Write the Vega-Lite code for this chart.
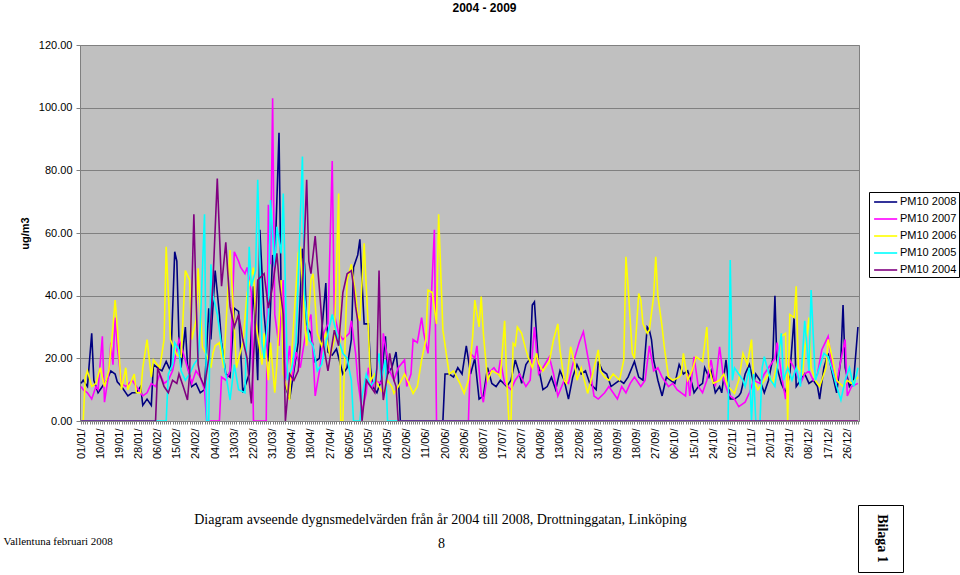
{
"$schema": "https://vega.github.io/schema/vega-lite/v6.json",
"width": 779, "height": 376,
"autosize": {"type": "none"},
"padding": {"left": 80, "top": 45, "right": 101, "bottom": 154},
"background": "white",
"config": {"view": {"fill": "#C0C0C0", "stroke": "#808080", "strokeWidth": 1}},
"title": {"text": "2004 - 2009", "anchor": "middle", "frame": "group", "dx": 15, "offset": 24, "font": "Liberation Sans", "fontSize": 12, "fontWeight": "bold", "color": "black"},
"resolve": {"axis": {"x": "independent", "y": "independent"}},
"layer": [
{
"data": {"values": [
{"s":"2008","d":1,"v":12},{"s":"2008","d":2,"v":13},{"s":"2008","d":3,"v":12},{"s":"2008","d":4,"v":11},{"s":"2008","d":6,"v":28},{"s":"2008","d":7,"v":13},{"s":"2008","d":9,"v":9},{"s":"2008","d":11,"v":11},{"s":"2008","d":13,"v":13},{"s":"2008","d":15,"v":16},{"s":"2008","d":17,"v":15},{"s":"2008","d":18,"v":12.5},{"s":"2008","d":20,"v":11},{"s":"2008","d":23,"v":8},{"s":"2008","d":25,"v":9},{"s":"2008","d":27,"v":9},{"s":"2008","d":29,"v":11},{"s":"2008","d":30,"v":5},{"s":"2008","d":32,"v":7},{"s":"2008","d":34,"v":5},{"s":"2008","d":35,"v":18},{"s":"2008","d":37,"v":17},{"s":"2008","d":39,"v":16},{"s":"2008","d":41,"v":19},{"s":"2008","d":43,"v":16},{"s":"2008","d":45,"v":54},{"s":"2008","d":46,"v":51},{"s":"2008","d":47,"v":26},{"s":"2008","d":48,"v":17},{"s":"2008","d":50,"v":30},{"s":"2008","d":51,"v":18},{"s":"2008","d":53,"v":11},{"s":"2008","d":55,"v":12},{"s":"2008","d":57,"v":9},{"s":"2008","d":59,"v":10},{"s":"2008","d":61,"v":36},{"s":"2008","d":62,"v":26},{"s":"2008","d":64,"v":48},{"s":"2008","d":66,"v":34},{"s":"2008","d":67,"v":25},{"s":"2008","d":69,"v":15},{"s":"2008","d":71,"v":14},{"s":"2008","d":73,"v":36},{"s":"2008","d":75,"v":35},{"s":"2008","d":77,"v":9},{"s":"2008","d":80,"v":15},{"s":"2008","d":82,"v":43},{"s":"2008","d":84,"v":13},{"s":"2008","d":85,"v":61},{"s":"2008","d":87,"v":34},{"s":"2008","d":89,"v":19},{"s":"2008","d":91,"v":53},{"s":"2008","d":92,"v":49},{"s":"2008","d":94,"v":92},{"s":"2008","d":95,"v":40},{"s":"2008","d":97,"v":11},{"s":"2008","d":99,"v":7},{"s":"2008","d":101,"v":16},{"s":"2008","d":103,"v":25},{"s":"2008","d":105,"v":55},{"s":"2008","d":106,"v":50},{"s":"2008","d":107,"v":30},{"s":"2008","d":109,"v":28},{"s":"2008","d":111,"v":19},{"s":"2008","d":113,"v":20},{"s":"2008","d":116,"v":44},{"s":"2008","d":117,"v":22},{"s":"2008","d":119,"v":21},{"s":"2008","d":121,"v":23},{"s":"2008","d":124,"v":15},{"s":"2008","d":126,"v":17},{"s":"2008","d":128,"v":26},{"s":"2008","d":129,"v":49},{"s":"2008","d":131,"v":53},{"s":"2008","d":132,"v":58},{"s":"2008","d":134,"v":31},{"s":"2008","d":136,"v":31},{"s":"2008","d":137,"v":17},{"s":"2008","d":138,"v":11},{"s":"2008","d":140,"v":9},{"s":"2008","d":142,"v":13},{"s":"2008","d":144,"v":27},{"s":"2008","d":145,"v":15},{"s":"2008","d":147,"v":17},{"s":"2008","d":149,"v":22},{"s":"2008","d":150,"v":15},{"s":"2008","d":151,"v":0},{"s":"2008","d":171,"v":0},{"s":"2008","d":172,"v":15},{"s":"2008","d":174,"v":15},{"s":"2008","d":176,"v":14},{"s":"2008","d":178,"v":17},{"s":"2008","d":180,"v":15},{"s":"2008","d":182,"v":24},{"s":"2008","d":184,"v":15},{"s":"2008","d":186,"v":20},{"s":"2008","d":188,"v":7},{"s":"2008","d":190,"v":8},{"s":"2008","d":192,"v":17},{"s":"2008","d":194,"v":12},{"s":"2008","d":196,"v":11},{"s":"2008","d":198,"v":13},{"s":"2008","d":201,"v":11},{"s":"2008","d":203,"v":13},{"s":"2008","d":205,"v":19.5},{"s":"2008","d":207,"v":15},{"s":"2008","d":208,"v":12},{"s":"2008","d":210,"v":18},{"s":"2008","d":212,"v":20},{"s":"2008","d":213,"v":37},{"s":"2008","d":214,"v":38},{"s":"2008","d":216,"v":17},{"s":"2008","d":218,"v":10},{"s":"2008","d":220,"v":11},{"s":"2008","d":222,"v":14},{"s":"2008","d":224,"v":10},{"s":"2008","d":226,"v":16},{"s":"2008","d":228,"v":13},{"s":"2008","d":230,"v":7},{"s":"2008","d":232,"v":14},{"s":"2008","d":234,"v":18},{"s":"2008","d":236,"v":15},{"s":"2008","d":238,"v":16},{"s":"2008","d":240,"v":12},{"s":"2008","d":243,"v":10},{"s":"2008","d":244,"v":19},{"s":"2008","d":246,"v":16},{"s":"2008","d":248,"v":15},{"s":"2008","d":250,"v":11},{"s":"2008","d":252,"v":12},{"s":"2008","d":254,"v":13},{"s":"2008","d":256,"v":12},{"s":"2008","d":258,"v":14},{"s":"2008","d":261,"v":19},{"s":"2008","d":263,"v":14},{"s":"2008","d":265,"v":13},{"s":"2008","d":267,"v":30},{"s":"2008","d":268,"v":29},{"s":"2008","d":269,"v":26},{"s":"2008","d":270,"v":19.5},{"s":"2008","d":272,"v":13},{"s":"2008","d":274,"v":8},{"s":"2008","d":276,"v":14},{"s":"2008","d":278,"v":13},{"s":"2008","d":280,"v":12},{"s":"2008","d":282,"v":18},{"s":"2008","d":284,"v":15},{"s":"2008","d":286,"v":16},{"s":"2008","d":288,"v":12},{"s":"2008","d":289,"v":9},{"s":"2008","d":291,"v":11},{"s":"2008","d":293,"v":12},{"s":"2008","d":294,"v":17},{"s":"2008","d":296,"v":14},{"s":"2008","d":297,"v":16},{"s":"2008","d":299,"v":9},{"s":"2008","d":301,"v":11},{"s":"2008","d":302,"v":9},{"s":"2008","d":304,"v":19.5},{"s":"2008","d":306,"v":7},{"s":"2008","d":308,"v":7},{"s":"2008","d":310,"v":8},{"s":"2008","d":311,"v":9},{"s":"2008","d":313,"v":15},{"s":"2008","d":315,"v":18},{"s":"2008","d":317,"v":12},{"s":"2008","d":318,"v":15},{"s":"2008","d":320,"v":13},{"s":"2008","d":322,"v":9},{"s":"2008","d":324,"v":13},{"s":"2008","d":326,"v":20},{"s":"2008","d":327,"v":40},{"s":"2008","d":328,"v":17},{"s":"2008","d":330,"v":12},{"s":"2008","d":332,"v":9},{"s":"2008","d":334,"v":15},{"s":"2008","d":336,"v":33},{"s":"2008","d":337,"v":11},{"s":"2008","d":339,"v":13},{"s":"2008","d":341,"v":15},{"s":"2008","d":343,"v":12},{"s":"2008","d":345,"v":13},{"s":"2008","d":347,"v":11},{"s":"2008","d":348,"v":7},{"s":"2008","d":350,"v":17},{"s":"2008","d":352,"v":21.6},{"s":"2008","d":354,"v":15},{"s":"2008","d":356,"v":9},{"s":"2008","d":358,"v":20},{"s":"2008","d":359,"v":37},{"s":"2008","d":360,"v":17},{"s":"2008","d":362,"v":11},{"s":"2008","d":364,"v":13},{"s":"2008","d":366,"v":30},
{"s":"2007","d":1,"v":11},{"s":"2007","d":2,"v":10},{"s":"2007","d":4,"v":9},{"s":"2007","d":6,"v":7},{"s":"2007","d":8,"v":11},{"s":"2007","d":9,"v":10},{"s":"2007","d":11,"v":27},{"s":"2007","d":12,"v":6},{"s":"2007","d":14,"v":15},{"s":"2007","d":15,"v":25},{"s":"2007","d":16,"v":18},{"s":"2007","d":17,"v":33},{"s":"2007","d":18,"v":24},{"s":"2007","d":20,"v":12},{"s":"2007","d":22,"v":11},{"s":"2007","d":25,"v":13},{"s":"2007","d":27,"v":11},{"s":"2007","d":30,"v":8},{"s":"2007","d":32,"v":9},{"s":"2007","d":34,"v":12},{"s":"2007","d":36,"v":11},{"s":"2007","d":38,"v":15},{"s":"2007","d":40,"v":12},{"s":"2007","d":42,"v":13},{"s":"2007","d":44,"v":16},{"s":"2007","d":47,"v":26},{"s":"2007","d":48,"v":24},{"s":"2007","d":51,"v":17},{"s":"2007","d":53,"v":12},{"s":"2007","d":55,"v":16},{"s":"2007","d":57,"v":14},{"s":"2007","d":59,"v":10},{"s":"2007","d":60,"v":0},{"s":"2007","d":66,"v":0},{"s":"2007","d":67,"v":14},{"s":"2007","d":69,"v":13},{"s":"2007","d":71,"v":16},{"s":"2007","d":73,"v":54},{"s":"2007","d":75,"v":51},{"s":"2007","d":76,"v":49},{"s":"2007","d":78,"v":47},{"s":"2007","d":79,"v":49},{"s":"2007","d":81,"v":41},{"s":"2007","d":82,"v":0},{"s":"2007","d":88,"v":0},{"s":"2007","d":89,"v":69},{"s":"2007","d":90,"v":50},{"s":"2007","d":91,"v":103},{"s":"2007","d":92,"v":34},{"s":"2007","d":94,"v":24},{"s":"2007","d":96,"v":45},{"s":"2007","d":97,"v":13},{"s":"2007","d":99,"v":24},{"s":"2007","d":100,"v":13},{"s":"2007","d":102,"v":22},{"s":"2007","d":104,"v":17},{"s":"2007","d":107,"v":30},{"s":"2007","d":109,"v":34},{"s":"2007","d":111,"v":8},{"s":"2007","d":113,"v":16},{"s":"2007","d":115,"v":28},{"s":"2007","d":117,"v":31},{"s":"2007","d":119,"v":83},{"s":"2007","d":120,"v":34},{"s":"2007","d":122,"v":28},{"s":"2007","d":124,"v":26},{"s":"2007","d":127,"v":28},{"s":"2007","d":128,"v":32},{"s":"2007","d":130,"v":21.6},{"s":"2007","d":131,"v":13},{"s":"2007","d":133,"v":3},{"s":"2007","d":135,"v":9},{"s":"2007","d":136,"v":17},{"s":"2007","d":138,"v":11},{"s":"2007","d":139,"v":13},{"s":"2007","d":142,"v":12},{"s":"2007","d":143,"v":28},{"s":"2007","d":145,"v":20},{"s":"2007","d":146,"v":16},{"s":"2007","d":148,"v":13},{"s":"2007","d":150,"v":17},{"s":"2007","d":153,"v":19.5},{"s":"2007","d":154,"v":11},{"s":"2007","d":156,"v":15},{"s":"2007","d":157,"v":26},{"s":"2007","d":159,"v":25},{"s":"2007","d":161,"v":33},{"s":"2007","d":162,"v":28},{"s":"2007","d":164,"v":21.6},{"s":"2007","d":165,"v":31},{"s":"2007","d":167,"v":61},{"s":"2007","d":168,"v":0},{"s":"2007","d":183,"v":0},{"s":"2007","d":184,"v":21.6},{"s":"2007","d":186,"v":20},{"s":"2007","d":187,"v":24},{"s":"2007","d":189,"v":9},{"s":"2007","d":190,"v":6},{"s":"2007","d":192,"v":15},{"s":"2007","d":195,"v":17},{"s":"2007","d":197,"v":15},{"s":"2007","d":198,"v":19.5},{"s":"2007","d":200,"v":12},{"s":"2007","d":203,"v":10},{"s":"2007","d":205,"v":13},{"s":"2007","d":207,"v":15},{"s":"2007","d":210,"v":11},{"s":"2007","d":212,"v":13},{"s":"2007","d":214,"v":30},{"s":"2007","d":216,"v":15},{"s":"2007","d":218,"v":17},{"s":"2007","d":221,"v":20.5},{"s":"2007","d":223,"v":15},{"s":"2007","d":225,"v":8},{"s":"2007","d":228,"v":13},{"s":"2007","d":230,"v":12},{"s":"2007","d":232,"v":18},{"s":"2007","d":235,"v":25},{"s":"2007","d":237,"v":28.5},{"s":"2007","d":240,"v":17},{"s":"2007","d":242,"v":8},{"s":"2007","d":244,"v":7},{"s":"2007","d":247,"v":9},{"s":"2007","d":249,"v":11},{"s":"2007","d":251,"v":9},{"s":"2007","d":253,"v":7},{"s":"2007","d":255,"v":11},{"s":"2007","d":257,"v":9},{"s":"2007","d":259,"v":12},{"s":"2007","d":261,"v":14},{"s":"2007","d":264,"v":11},{"s":"2007","d":266,"v":13},{"s":"2007","d":268,"v":24},{"s":"2007","d":270,"v":16},{"s":"2007","d":272,"v":17},{"s":"2007","d":274,"v":14},{"s":"2007","d":277,"v":11},{"s":"2007","d":279,"v":12},{"s":"2007","d":281,"v":10},{"s":"2007","d":283,"v":9},{"s":"2007","d":285,"v":8},{"s":"2007","d":286,"v":15},{"s":"2007","d":287,"v":8},{"s":"2007","d":289,"v":20.5},{"s":"2007","d":291,"v":11},{"s":"2007","d":293,"v":9},{"s":"2007","d":295,"v":13},{"s":"2007","d":297,"v":19.5},{"s":"2007","d":299,"v":11},{"s":"2007","d":301,"v":23.7},{"s":"2007","d":303,"v":13},{"s":"2007","d":305,"v":9},{"s":"2007","d":306,"v":8},{"s":"2007","d":308,"v":7},{"s":"2007","d":310,"v":4.6},{"s":"2007","d":313,"v":6},{"s":"2007","d":315,"v":9},{"s":"2007","d":317,"v":13},{"s":"2007","d":320,"v":12},{"s":"2007","d":322,"v":15},{"s":"2007","d":324,"v":17},{"s":"2007","d":327,"v":20},{"s":"2007","d":328,"v":25},{"s":"2007","d":330,"v":15},{"s":"2007","d":332,"v":7},{"s":"2007","d":334,"v":19.5},{"s":"2007","d":336,"v":17},{"s":"2007","d":339,"v":12},{"s":"2007","d":341,"v":15},{"s":"2007","d":343,"v":16},{"s":"2007","d":345,"v":13},{"s":"2007","d":347,"v":15},{"s":"2007","d":349,"v":22.7},{"s":"2007","d":352,"v":27},{"s":"2007","d":354,"v":17},{"s":"2007","d":356,"v":12},{"s":"2007","d":358,"v":19.5},{"s":"2007","d":360,"v":26},{"s":"2007","d":361,"v":8},{"s":"2007","d":363,"v":11},{"s":"2007","d":366,"v":12},
{"s":"2006","d":1,"v":0},{"s":"2006","d":2,"v":0},{"s":"2006","d":3,"v":14},{"s":"2006","d":4,"v":16},{"s":"2006","d":6,"v":11},{"s":"2006","d":8,"v":12},{"s":"2006","d":10,"v":17},{"s":"2006","d":12,"v":11},{"s":"2006","d":14,"v":16},{"s":"2006","d":16,"v":30},{"s":"2006","d":17,"v":38.6},{"s":"2006","d":18,"v":30},{"s":"2006","d":20,"v":10},{"s":"2006","d":22,"v":17},{"s":"2006","d":23,"v":10},{"s":"2006","d":26,"v":15},{"s":"2006","d":27,"v":9},{"s":"2006","d":29,"v":9},{"s":"2006","d":30,"v":17},{"s":"2006","d":32,"v":26},{"s":"2006","d":34,"v":14},{"s":"2006","d":35,"v":19.5},{"s":"2006","d":38,"v":17},{"s":"2006","d":40,"v":26},{"s":"2006","d":41,"v":55.6},{"s":"2006","d":43,"v":26},{"s":"2006","d":45,"v":22.7},{"s":"2006","d":46,"v":21},{"s":"2006","d":48,"v":20.5},{"s":"2006","d":50,"v":48},{"s":"2006","d":52,"v":45},{"s":"2006","d":53,"v":26},{"s":"2006","d":55,"v":32},{"s":"2006","d":56,"v":48.7},{"s":"2006","d":58,"v":23.7},{"s":"2006","d":60,"v":21},{"s":"2006","d":62,"v":17},{"s":"2006","d":63,"v":21.6},{"s":"2006","d":64,"v":24},{"s":"2006","d":66,"v":25},{"s":"2006","d":68,"v":17},{"s":"2006","d":71,"v":54.6},{"s":"2006","d":72,"v":42},{"s":"2006","d":74,"v":17},{"s":"2006","d":77,"v":25},{"s":"2006","d":79,"v":40.7},{"s":"2006","d":82,"v":49},{"s":"2006","d":83,"v":32},{"s":"2006","d":86,"v":18},{"s":"2006","d":87,"v":28},{"s":"2006","d":89,"v":13},{"s":"2006","d":90,"v":25},{"s":"2006","d":92,"v":9},{"s":"2006","d":93,"v":18},{"s":"2006","d":95,"v":45},{"s":"2006","d":96,"v":15},{"s":"2006","d":99,"v":6.7},{"s":"2006","d":100,"v":22},{"s":"2006","d":103,"v":53.5},{"s":"2006","d":104,"v":55.6},{"s":"2006","d":106,"v":32},{"s":"2006","d":107,"v":24},{"s":"2006","d":109,"v":45},{"s":"2006","d":110,"v":47},{"s":"2006","d":112,"v":28},{"s":"2006","d":114,"v":24},{"s":"2006","d":116,"v":28},{"s":"2006","d":118,"v":20.5},{"s":"2006","d":120,"v":26},{"s":"2006","d":122,"v":72.6},{"s":"2006","d":123,"v":0},{"s":"2006","d":124,"v":0},{"s":"2006","d":125,"v":24},{"s":"2006","d":126,"v":45},{"s":"2006","d":128,"v":50},{"s":"2006","d":129,"v":45},{"s":"2006","d":130,"v":40.7},{"s":"2006","d":131,"v":34},{"s":"2006","d":132,"v":32},{"s":"2006","d":134,"v":56.7},{"s":"2006","d":136,"v":29},{"s":"2006","d":137,"v":13},{"s":"2006","d":139,"v":15},{"s":"2006","d":140,"v":12},{"s":"2006","d":143,"v":8.8},{"s":"2006","d":145,"v":13},{"s":"2006","d":147,"v":11},{"s":"2006","d":148,"v":8.8},{"s":"2006","d":150,"v":11},{"s":"2006","d":153,"v":15},{"s":"2006","d":155,"v":12},{"s":"2006","d":157,"v":8.8},{"s":"2006","d":159,"v":11},{"s":"2006","d":161,"v":19.5},{"s":"2006","d":163,"v":26},{"s":"2006","d":164,"v":41.8},{"s":"2006","d":166,"v":41},{"s":"2006","d":168,"v":31},{"s":"2006","d":169,"v":66},{"s":"2006","d":171,"v":29},{"s":"2006","d":173,"v":19.5},{"s":"2006","d":174,"v":15},{"s":"2006","d":176,"v":16},{"s":"2006","d":179,"v":12},{"s":"2006","d":181,"v":8.8},{"s":"2006","d":183,"v":13},{"s":"2006","d":185,"v":27},{"s":"2006","d":186,"v":38.6},{"s":"2006","d":188,"v":30},{"s":"2006","d":189,"v":39.7},{"s":"2006","d":190,"v":28},{"s":"2006","d":192,"v":13},{"s":"2006","d":194,"v":16},{"s":"2006","d":197,"v":15},{"s":"2006","d":198,"v":14},{"s":"2006","d":200,"v":32},{"s":"2006","d":201,"v":13},{"s":"2006","d":202,"v":0},{"s":"2006","d":203,"v":0},{"s":"2006","d":204,"v":24.8},{"s":"2006","d":205,"v":24},{"s":"2006","d":206,"v":30},{"s":"2006","d":208,"v":28},{"s":"2006","d":210,"v":22.7},{"s":"2006","d":211,"v":20.5},{"s":"2006","d":213,"v":17},{"s":"2006","d":215,"v":21.6},{"s":"2006","d":216,"v":18.4},{"s":"2006","d":218,"v":16},{"s":"2006","d":221,"v":19},{"s":"2006","d":223,"v":26},{"s":"2006","d":225,"v":31},{"s":"2006","d":226,"v":22.7},{"s":"2006","d":228,"v":13},{"s":"2006","d":229,"v":12},{"s":"2006","d":231,"v":23.7},{"s":"2006","d":233,"v":18},{"s":"2006","d":234,"v":13},{"s":"2006","d":236,"v":17},{"s":"2006","d":239,"v":8.8},{"s":"2006","d":241,"v":14},{"s":"2006","d":244,"v":22.7},{"s":"2006","d":245,"v":16},{"s":"2006","d":247,"v":14},{"s":"2006","d":249,"v":13},{"s":"2006","d":251,"v":15},{"s":"2006","d":254,"v":13},{"s":"2006","d":256,"v":19.5},{"s":"2006","d":257,"v":52.4},{"s":"2006","d":258,"v":43},{"s":"2006","d":260,"v":21.6},{"s":"2006","d":261,"v":20},{"s":"2006","d":263,"v":40.7},{"s":"2006","d":264,"v":38.6},{"s":"2006","d":265,"v":31},{"s":"2006","d":267,"v":28},{"s":"2006","d":268,"v":29},{"s":"2006","d":270,"v":39.7},{"s":"2006","d":271,"v":52.4},{"s":"2006","d":272,"v":40},{"s":"2006","d":274,"v":30},{"s":"2006","d":275,"v":23.7},{"s":"2006","d":277,"v":14},{"s":"2006","d":279,"v":13},{"s":"2006","d":282,"v":14},{"s":"2006","d":283,"v":15},{"s":"2006","d":284,"v":21.6},{"s":"2006","d":286,"v":13},{"s":"2006","d":288,"v":16},{"s":"2006","d":290,"v":20.5},{"s":"2006","d":293,"v":19},{"s":"2006","d":295,"v":30},{"s":"2006","d":296,"v":17},{"s":"2006","d":298,"v":12},{"s":"2006","d":301,"v":13},{"s":"2006","d":303,"v":15},{"s":"2006","d":305,"v":11},{"s":"2006","d":308,"v":8.8},{"s":"2006","d":310,"v":13},{"s":"2006","d":312,"v":21.6},{"s":"2006","d":314,"v":18},{"s":"2006","d":316,"v":26},{"s":"2006","d":317,"v":13},{"s":"2006","d":319,"v":10},{"s":"2006","d":322,"v":13},{"s":"2006","d":324,"v":15},{"s":"2006","d":326,"v":12},{"s":"2006","d":329,"v":21.6},{"s":"2006","d":330,"v":27},{"s":"2006","d":332,"v":28},{"s":"2006","d":333,"v":0},{"s":"2006","d":334,"v":34},{"s":"2006","d":336,"v":33},{"s":"2006","d":337,"v":43},{"s":"2006","d":338,"v":17},{"s":"2006","d":340,"v":15},{"s":"2006","d":341,"v":22.7},{"s":"2006","d":343,"v":33},{"s":"2006","d":344,"v":17},{"s":"2006","d":346,"v":13},{"s":"2006","d":348,"v":11},{"s":"2006","d":351,"v":17},{"s":"2006","d":352,"v":26},{"s":"2006","d":354,"v":20},{"s":"2006","d":356,"v":13},{"s":"2006","d":359,"v":11},{"s":"2006","d":361,"v":13},{"s":"2006","d":363,"v":12},{"s":"2006","d":366,"v":14},
{"s":"2005","d":1,"v":0},{"s":"2005","d":41,"v":0},{"s":"2005","d":42,"v":15},{"s":"2005","d":44,"v":18},{"s":"2005","d":45,"v":25},{"s":"2005","d":47,"v":22.7},{"s":"2005","d":48,"v":16},{"s":"2005","d":50,"v":13},{"s":"2005","d":52,"v":15},{"s":"2005","d":54,"v":18},{"s":"2005","d":56,"v":20},{"s":"2005","d":57,"v":30},{"s":"2005","d":59,"v":66},{"s":"2005","d":60,"v":0},{"s":"2005","d":61,"v":0},{"s":"2005","d":62,"v":50},{"s":"2005","d":63,"v":40},{"s":"2005","d":65,"v":34},{"s":"2005","d":67,"v":24},{"s":"2005","d":69,"v":15},{"s":"2005","d":71,"v":6.7},{"s":"2005","d":73,"v":18},{"s":"2005","d":75,"v":10},{"s":"2005","d":78,"v":9},{"s":"2005","d":80,"v":55.6},{"s":"2005","d":81,"v":43},{"s":"2005","d":83,"v":48},{"s":"2005","d":84,"v":77},{"s":"2005","d":86,"v":25},{"s":"2005","d":87,"v":20},{"s":"2005","d":89,"v":34},{"s":"2005","d":90,"v":70.5},{"s":"2005","d":92,"v":49},{"s":"2005","d":93,"v":62},{"s":"2005","d":95,"v":53.5},{"s":"2005","d":96,"v":72.6},{"s":"2005","d":98,"v":13},{"s":"2005","d":100,"v":17},{"s":"2005","d":102,"v":25},{"s":"2005","d":105,"v":84.4},{"s":"2005","d":106,"v":40},{"s":"2005","d":108,"v":26},{"s":"2005","d":110,"v":24},{"s":"2005","d":112,"v":16},{"s":"2005","d":114,"v":18},{"s":"2005","d":117,"v":28},{"s":"2005","d":119,"v":34},{"s":"2005","d":121,"v":28},{"s":"2005","d":124,"v":21.6},{"s":"2005","d":126,"v":20},{"s":"2005","d":128,"v":13},{"s":"2005","d":129,"v":0},{"s":"2005","d":132,"v":0},{"s":"2005","d":133,"v":8},{"s":"2005","d":135,"v":15},{"s":"2005","d":137,"v":11},{"s":"2005","d":139,"v":13},{"s":"2005","d":141,"v":21.6},{"s":"2005","d":142,"v":13},{"s":"2005","d":144,"v":19.5},{"s":"2005","d":145,"v":0},{"s":"2005","d":305,"v":0},{"s":"2005","d":306,"v":51.4},{"s":"2005","d":307,"v":13},{"s":"2005","d":308,"v":17},{"s":"2005","d":310,"v":15},{"s":"2005","d":312,"v":13},{"s":"2005","d":313,"v":11},{"s":"2005","d":315,"v":17},{"s":"2005","d":316,"v":0},{"s":"2005","d":317,"v":15},{"s":"2005","d":318,"v":0},{"s":"2005","d":320,"v":0},{"s":"2005","d":321,"v":17},{"s":"2005","d":322,"v":20.5},{"s":"2005","d":325,"v":13},{"s":"2005","d":327,"v":11},{"s":"2005","d":330,"v":28},{"s":"2005","d":331,"v":13},{"s":"2005","d":333,"v":17},{"s":"2005","d":335,"v":13},{"s":"2005","d":337,"v":17},{"s":"2005","d":339,"v":11},{"s":"2005","d":341,"v":32},{"s":"2005","d":343,"v":16},{"s":"2005","d":344,"v":41.8},{"s":"2005","d":346,"v":13},{"s":"2005","d":347,"v":15},{"s":"2005","d":350,"v":21.6},{"s":"2005","d":352,"v":20.5},{"s":"2005","d":354,"v":16},{"s":"2005","d":356,"v":11},{"s":"2005","d":358,"v":6.7},{"s":"2005","d":360,"v":13},{"s":"2005","d":362,"v":17},{"s":"2005","d":364,"v":11},{"s":"2005","d":366,"v":17},
{"s":"2004","d":1,"v":0},{"s":"2004","d":36,"v":0},{"s":"2004","d":37,"v":17},{"s":"2004","d":39,"v":13},{"s":"2004","d":40,"v":11},{"s":"2004","d":42,"v":9},{"s":"2004","d":44,"v":13},{"s":"2004","d":46,"v":12},{"s":"2004","d":47,"v":15},{"s":"2004","d":49,"v":11},{"s":"2004","d":51,"v":6.7},{"s":"2004","d":52,"v":15},{"s":"2004","d":54,"v":66},{"s":"2004","d":55,"v":40},{"s":"2004","d":56,"v":18},{"s":"2004","d":57,"v":14},{"s":"2004","d":59,"v":11},{"s":"2004","d":61,"v":20},{"s":"2004","d":63,"v":45},{"s":"2004","d":65,"v":77.4},{"s":"2004","d":66,"v":60},{"s":"2004","d":67,"v":43},{"s":"2004","d":69,"v":57},{"s":"2004","d":71,"v":36.5},{"s":"2004","d":73,"v":30},{"s":"2004","d":75,"v":34},{"s":"2004","d":77,"v":26},{"s":"2004","d":79,"v":20},{"s":"2004","d":81,"v":5.6},{"s":"2004","d":82,"v":20},{"s":"2004","d":84,"v":45},{"s":"2004","d":87,"v":47},{"s":"2004","d":89,"v":36},{"s":"2004","d":91,"v":43},{"s":"2004","d":93,"v":53.5},{"s":"2004","d":94,"v":45},{"s":"2004","d":96,"v":34},{"s":"2004","d":97,"v":0},{"s":"2004","d":99,"v":15},{"s":"2004","d":101,"v":13},{"s":"2004","d":103,"v":16},{"s":"2004","d":104,"v":24},{"s":"2004","d":107,"v":77},{"s":"2004","d":108,"v":51},{"s":"2004","d":109,"v":47},{"s":"2004","d":111,"v":59},{"s":"2004","d":113,"v":42},{"s":"2004","d":115,"v":24},{"s":"2004","d":117,"v":16},{"s":"2004","d":120,"v":29},{"s":"2004","d":122,"v":24},{"s":"2004","d":124,"v":41},{"s":"2004","d":126,"v":47},{"s":"2004","d":128,"v":48},{"s":"2004","d":129,"v":43},{"s":"2004","d":130,"v":36.5},{"s":"2004","d":131,"v":32},{"s":"2004","d":132,"v":14},{"s":"2004","d":133,"v":0},{"s":"2004","d":135,"v":13},{"s":"2004","d":137,"v":11},{"s":"2004","d":139,"v":9},{"s":"2004","d":140,"v":17},{"s":"2004","d":141,"v":48},{"s":"2004","d":142,"v":17},{"s":"2004","d":143,"v":6.7},{"s":"2004","d":145,"v":15},{"s":"2004","d":146,"v":21.6},{"s":"2004","d":148,"v":13},{"s":"2004","d":149,"v":11},{"s":"2004","d":150,"v":0},{"s":"2004","d":366,"v":0}
]},
"mark": {"type": "line", "strokeWidth": 1.6, "clip": true},
"encoding": {
"x": {"field": "d", "type": "quantitative",
"scale": {"domain": [0.5, 366.5], "nice": false, "zero": false},
"axis": {"tickCount": 366, "labelOverlap": false, "labelBound": false, "labelFlush": false,
"labelExpr": "(datum.value - 1) % 9 == 0 ? timeFormat(datetime(2008, 0, datum.value), '%d/%m/') : ''",
"labelAngle": 270, "labelAlign": "right", "labelBaseline": "middle", "labelPadding": 4,
"labelFont": "Liberation Sans", "labelFontSize": 11, "labelColor": "black",
"tickSize": 3, "tickColor": "#808080", "tickWidth": 1, "domainColor": "#808080", "grid": false,
"title": "Diagram avseende dygnsmedelvärden från år 2004 till 2008, Drottninggatan, Linköping",
"titleX": 360, "titleY": 102, "titleAlign": "center", "titleBaseline": "alphabetic", "titleAnchor": null,
"titleFont": "Liberation Serif", "titleFontSize": 14, "titleFontWeight": "normal", "titleColor": "black"}},
"y": {"field": "v", "type": "quantitative",
"scale": {"domain": [0, 120], "nice": false, "zero": true},
"axis": {"values": [0, 20, 40, 60, 80, 100, 120], "format": ".2f", "grid": true, "gridColor": "#808080", "gridWidth": 1,
"labelFont": "Liberation Sans", "labelFontSize": 11, "labelColor": "black", "labelPadding": 4,
"tickSize": 4, "tickColor": "#808080", "domainColor": "#808080",
"title": "ug/m3", "titleFont": "Liberation Sans", "titleFontSize": 11, "titleFontWeight": "bold", "titleColor": "black",
"titleX": -55, "titleY": 188, "titleAngle": 270, "titleAlign": "center", "titleBaseline": "middle"}},
"color": {"field": "s", "type": "nominal",
"scale": {"domain": ["2008", "2007", "2006", "2005", "2004"], "range": ["#000080", "#FF00FF", "#FFFF00", "#00FFFF", "#800080"]},
"legend": {"title": null, "orient": "none", "legendX": 789, "legendY": 147,
"labelExpr": "'PM10 ' + datum.label", "labelFont": "Liberation Sans", "labelFontSize": 11, "labelColor": "black",
"symbolType": "M-0.7,0L2.6,0", "symbolSize": 196, "symbolStrokeWidth": 1.6, "labelOffset": 13, "rowPadding": 4,
"strokeColor": "black", "fillColor": "white", "padding": 2}}
}
},
{
"data": {"values": [{"d": 1, "v": 0, "k": "a"}, {"d": 1, "v": 0, "k": "b"}]},
"mark": {"type": "point", "opacity": 0},
"encoding": {
"x": {"field": "d", "type": "quantitative",
"axis": {"orient": "bottom", "labels": false, "ticks": false, "domain": false, "grid": false,
"title": "Vallentuna februari 2008", "titleX": -77, "titleY": 123, "titleAlign": "left", "titleBaseline": "alphabetic", "titleAnchor": null,
"titleFont": "Liberation Serif", "titleFontSize": 11, "titleFontWeight": "normal", "titleColor": "black"}},
"y": {"field": "v", "type": "quantitative",
"axis": {"orient": "right", "labels": false, "ticks": false, "domain": false, "grid": false,
"title": "Bilaga 1", "titleX": 22, "titleY": 493, "titleAngle": 90, "titleAlign": "center", "titleBaseline": "middle",
"titleFont": "Liberation Serif", "titleFontSize": 14, "titleFontWeight": "bold", "titleColor": "black"}},
"shape": {"field": "k", "type": "nominal",
"legend": {"title": null, "orient": "none", "legendX": 778, "legendY": 460,
"symbolSize": 900, "symbolOpacity": 0, "symbolStrokeWidth": 0, "labelExpr": "''", "labelOffset": 15, "rowPadding": 7,
"padding": 0, "strokeColor": "black", "fillColor": null}}
}
},
{
"data": {"values": [{"d": 1, "v": 0}]},
"mark": {"type": "point", "opacity": 0},
"encoding": {
"x": {"field": "d", "type": "quantitative",
"axis": {"orient": "bottom", "labels": false, "ticks": false, "domain": false, "grid": false,
"title": "8", "titleX": 361, "titleY": 126, "titleAlign": "center", "titleBaseline": "alphabetic", "titleAnchor": null,
"titleFont": "Liberation Serif", "titleFontSize": 14, "titleFontWeight": "normal", "titleColor": "black"}}
}
}
]
}
